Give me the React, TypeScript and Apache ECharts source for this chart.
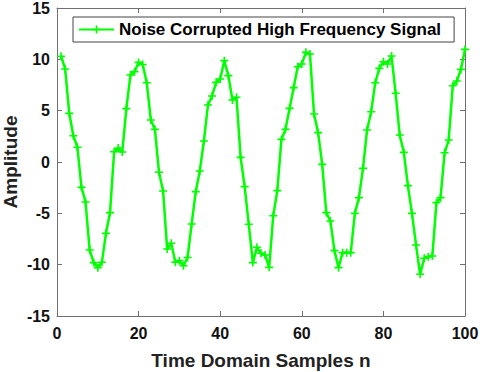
import React, { useEffect, useRef } from "react";
import * as echarts from "echarts";

const sampleIndex: number[] = Array.from({ length: 100 }, (_, i) => i + 1);
const amplitude: number[] = [
  10.3, 9.06, 4.74, 2.56, 1.43, -2.47, -3.9, -8.57, -9.8, -10.29,
  -9.77, -6.95, -4.93, 1.0, 1.36, 0.97, 5.2, 8.47, 8.8, 9.7,
  9.5, 7.72, 4.09, 3.18, -1.0, -2.82, -8.47, -7.92, -9.77, -9.61,
  -10.1, -9.3, -6.04, -2.89, -0.88, 2.04, 5.55, 6.43, 7.76, 8.08,
  9.87, 8.41, 6.04, 6.3, 0.45, -2.4, -6.07, -9.8, -8.31, -8.89,
  -9.06, -10.26, -5.23, -2.79, 2.2, 3.18, 5.22, 7.24, 9.28, 9.54,
  10.68, 10.52, 4.67, 2.86, -0.23, -4.93, -5.74, -8.63, -10.29, -8.83,
  -8.83, -8.83, -5.0, -3.47, -0.62, 3.12, 4.9, 7.72, 9.12, 9.77,
  9.54, 10.32, 6.69, 2.63, 0.94, -2.3, -5.0, -8.08, -10.94, -9.38,
  -9.22, -9.15, -3.96, -3.47, 0.9, 2.14, 7.43, 7.89, 9.02, 10.97,
];
const seriesName = "Noise Corrupted High Frequency Signal";
const xTicks = { min: 0, max: 100, interval: 20 };
const yTicks = { min: -15, max: 15, interval: 5 };

const PLUS = "path://M4 0h2v4h4v2h-4v4h-2v-4h-4v-2h4z";
const FONT = "'Liberation Sans', Arial, sans-serif";
const AXIS_COLOR = "#707070";

export default function App() {
  const ref = useRef<HTMLDivElement>(null);
  useEffect(() => {
    if (!ref.current) return;
    const chart = echarts.init(ref.current, undefined, { renderer: "svg" });
    const axisLineStyle = { show: true, onZero: false, lineStyle: { color: AXIS_COLOR, width: 1 } };
    const tickStyle = { show: true, inside: true, length: 5, lineStyle: { color: AXIS_COLOR } };
    const labelStyle = { color: "#111", fontFamily: FONT, fontWeight: "bold" as const, fontSize: 16 };
    chart.setOption({
      animation: false,
      backgroundColor: "#fff",
      grid: { left: 57, right: 15, top: 8, bottom: 56, containLabel: false, outerBoundsMode: "none" },
      legend: {
        show: true,
        data: [seriesName],
        left: 73,
        top: 17,
        padding: [4, 13, 4, 5],
        borderColor: "#444",
        borderWidth: 1,
        borderRadius: 0,
        backgroundColor: "#fff",
        itemWidth: 35,
        itemHeight: 10,
        textStyle: { color: "#000", fontFamily: FONT, fontWeight: "bold", fontSize: 17 },
      },
      xAxis: [
        {
          type: "value",
          ...xTicks,
          position: "bottom",
          axisLine: axisLineStyle,
          axisTick: tickStyle,
          axisLabel: { ...labelStyle, margin: 9 },
          splitLine: { show: false },
          name: "Time Domain Samples n",
          nameLocation: "middle",
          nameGap: 35,
          nameMoveOverlap: false,
          nameTextStyle: { color: "#222", fontFamily: FONT, fontWeight: "bold", fontSize: 19 },
        },
        {
          type: "value",
          ...xTicks,
          position: "top",
          axisLine: axisLineStyle,
          axisTick: tickStyle,
          axisLabel: { show: false },
          splitLine: { show: false },
        },
      ],
      yAxis: [
        {
          type: "value",
          ...yTicks,
          position: "left",
          axisLine: axisLineStyle,
          axisTick: tickStyle,
          axisLabel: { ...labelStyle, margin: 7 },
          splitLine: { show: false },
          name: "Amplitude",
          nameLocation: "middle",
          nameGap: 37,
          nameMoveOverlap: false,
          nameTextStyle: { color: "#222", fontFamily: FONT, fontWeight: "bold", fontSize: 19 },
        },
        {
          type: "value",
          ...yTicks,
          position: "right",
          axisLine: axisLineStyle,
          axisTick: tickStyle,
          axisLabel: { show: false },
          splitLine: { show: false },
        },
      ],
      series: [
        {
          name: seriesName,
          type: "line",
          xAxisIndex: 0,
          yAxisIndex: 0,
          data: sampleIndex.map((n, i) => [n, amplitude[i]]),
          symbol: PLUS,
          symbolSize: 8,
          showAllSymbol: true,
          lineStyle: { color: "#00ff00", width: 2.5 },
          itemStyle: { color: "#00ff00" },
          color: "#00ff00",
        },
      ],
    });
    return () => chart.dispose();
  }, []);
  return (
    <div
      ref={ref}
      style={{ position: "absolute", left: 0, top: 0, width: 480, height: 372 }}
    />
  );
}
